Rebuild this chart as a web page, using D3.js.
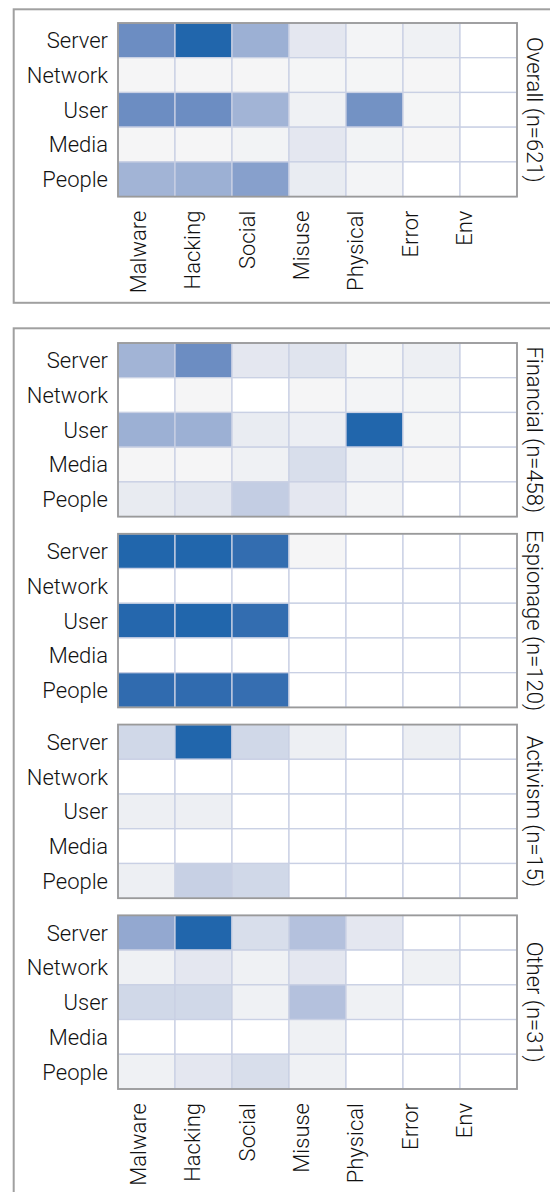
<!DOCTYPE html>
<html>
<head>
<meta charset="utf-8">
<script src="https://cdn.jsdelivr.net/npm/d3@7"></script>
<style>
  body { margin: 0; background: #fff; }
  svg text { font-family: Roboto, "DejaVu Sans", sans-serif; font-size: 22px; font-weight: 300; fill: #111; }
</style>
</head>
<body>
<script>
// rows and columns of every grid
var assets = ["Server", "Network", "User", "Media", "People"]
var actions = ["Malware", "Hacking", "Social", "Misuse", "Physical", "Error", "Env"]

// panel names and their counts
var panels = ["Overall", "Financial", "Espionage", "Activism", "Other"]
var counts = [621, 458, 120, 15, 31]

// shading intensity per cell (0-100), one row per asset
var overallValues = [
  [71, 100, 47, 10, 2, 4, 0],
  [1, 1, 1, 1.5, 1.5, 1, 0],
  [71, 71, 44, 4, 68, 1.5, 0],
  [1, 1, 2.5, 10, 2.5, 1, 0],
  [44, 47, 58, 7, 2, 0, 0]
]
var financialValues = [
  [44, 71, 10, 12, 1.5, 5, 0],
  [0, 1, 0, 1, 2, 1.5, 0],
  [47, 47, 7, 5.5, 100, 1.5, 0],
  [1, 1, 4, 16, 4, 1, 0],
  [8, 11, 27, 10, 2, 0, 0]
]
var espionageValues = [
  [100, 100, 95, 1, 0, 0, 0],
  [0, 0, 0, 0, 0, 0, 0],
  [99, 100, 95, 0, 0, 0, 0],
  [0, 0, 0, 0, 0, 0, 0],
  [96, 96, 94, 0, 0, 0, 0]
]
var activismValues = [
  [20, 100, 20, 5, 0, 5, 0],
  [0, 0, 0, 0, 0, 0, 0],
  [5, 5, 0, 0, 0, 0, 0],
  [0, 0, 0, 0, 0, 0, 0],
  [5, 25, 20, 0, 0, 0, 0]
]
var otherValues = [
  [52, 100, 16, 35, 10, 0, 0],
  [4, 10, 4, 10, 0, 4, 0],
  [20, 20, 4, 35, 4, 0, 0],
  [0, 0, 0, 4, 0, 0, 0],
  [4, 10, 16, 4, 0, 0, 0]
]
var panelValues = [overallValues, financialValues, espionageValues, activismValues, otherValues]

var w = 550
var h = 1192

var svg = d3.select("body")
  .append("svg")
  .attr("width", w)
  .attr("height", h)

var shade = d3.interpolateLab("#f7f7f7", "#2166ac")
function color(v) {
  if (v === 0) return "#ffffff"
  return shade(v / 100)
}

var xScale = d3.scaleBand().domain(actions).range([118, 517])
// the column labels sit on a slightly tighter spacing than the cells
var labelScale = d3.scalePoint().domain(actions).range([146, 472])

// vertical position of the grids: overall alone, the rest stacked
var lowerScale = d3.scaleBand().domain(panels.slice(1)).range([343, 1089]).paddingInner(0.09)
var gridH = lowerScale.bandwidth()
function gridTop(name) {
  return name === "Overall" ? 23 : lowerScale(name)
}

// outer frames
svg.append("rect")
  .attr("x", 13.7).attr("y", 9.3)
  .attr("width", 600).attr("height", 293.5)
  .attr("fill", "none").attr("stroke", "#a0a0a0").attr("stroke-width", 2)
svg.append("rect")
  .attr("x", 13.7).attr("y", 328.3)
  .attr("width", 600).attr("height", 1000)
  .attr("fill", "none").attr("stroke", "#a0a0a0").attr("stroke-width", 2)

panels.forEach(function (name, pi) {
  var top = gridTop(name)
  var yScale = d3.scaleBand().domain(assets).range([top, top + gridH])
  var g = svg.append("g").attr("class", "panel")

  var cells = []
  assets.forEach(function (a, ri) {
    actions.forEach(function (c, ci) {
      cells.push({ asset: a, action: c, value: panelValues[pi][ri][ci] })
    })
  })

  g.selectAll("rect.cell")
    .data(cells)
    .enter()
    .append("rect")
    .attr("class", "cell")
    .attr("x", d => xScale(d.action))
    .attr("y", d => yScale(d.asset))
    .attr("width", xScale.bandwidth())
    .attr("height", yScale.bandwidth())
    .attr("fill", d => color(d.value))
    .attr("stroke", "#c9d0e4")
    .attr("stroke-width", 1.3)

  // grid border
  g.append("rect")
    .attr("x", xScale.range()[0])
    .attr("y", top)
    .attr("width", xScale.range()[1] - xScale.range()[0])
    .attr("height", gridH)
    .attr("fill", "none")
    .attr("stroke", "#9a9a9a")
    .attr("stroke-width", 1.8)

  // row labels
  g.selectAll("text.row")
    .data(assets)
    .enter()
    .append("text")
    .attr("class", "row")
    .attr("x", 108)
    .attr("y", d => yScale(d) + yScale.bandwidth() / 2)
    .attr("dy", "0.36em")
    .attr("text-anchor", "end")
    .text(d => d)

  // panel title on the right
  g.append("text")
    .attr("transform", "translate(526.5," + (top + gridH / 2) + ") rotate(90)")
    .attr("text-anchor", "middle")
    .text(name + " (n=" + counts[pi] + ")")

  // column labels under the overall grid and the last grid
  if (name === "Overall" || name === "Other") {
    var ly = top + gridH + 14
    g.selectAll("text.col")
      .data(actions)
      .enter()
      .append("text")
      .attr("class", "col")
      .attr("transform", d => "translate(" + labelScale(d) + "," + ly + ") rotate(-90)")
      .attr("text-anchor", "end")
      .text(d => d)
  }
})
</script>
</body>
</html>
